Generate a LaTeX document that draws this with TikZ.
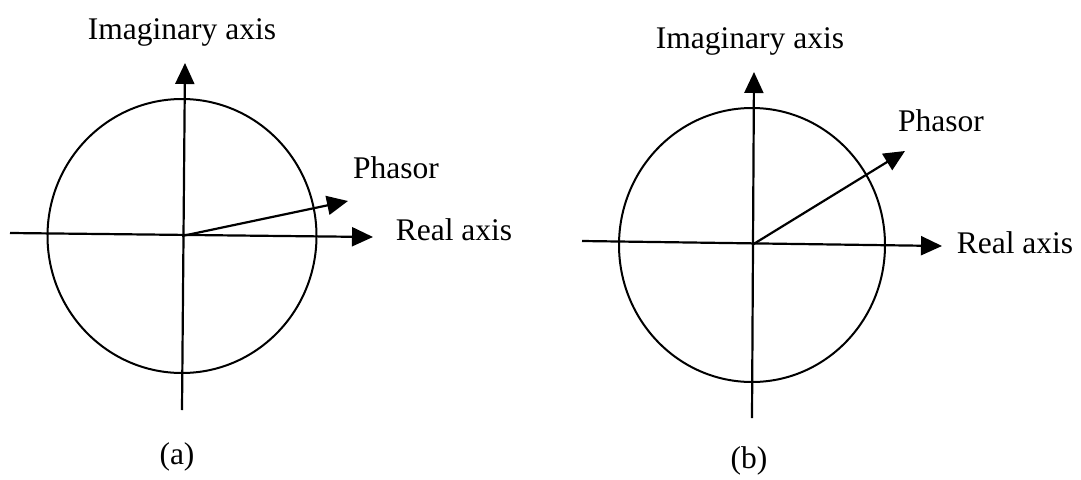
\documentclass[tikz,border=0pt]{standalone}
\usepackage{fontspec}
\setmainfont{Liberation Serif}
\usetikzlibrary{arrows.meta}
\begin{document}
\begin{tikzpicture}[x=1pt,y=-1pt,
  ax/.style={line width=2.2pt,-{Triangle[length=21pt,width=19pt]}},
  ln/.style={line width=2pt},
  lbl/.style={font=\fontsize{31.5}{36}\selectfont, inner sep=0pt}]
\useasboundingbox (0,0) rectangle (1081,479);
% ---------- (a) ----------
\coordinate (oa) at (182,236);
\coordinate (ha) at (10,233);
\coordinate (hta) at (373,237);
\coordinate (vta) at (185,63);
\coordinate (vba) at (182,410);
\coordinate (pa) at (348,201);
\draw[ln] (oa) ellipse [x radius=134.5, y radius=137];
\draw[ax] (ha) -- (hta);
\draw[ax] (vba) -- (vta);
\draw[ax] (oa) -- (pa);
\node[lbl] (ima) at (182,32) {Imaginary axis};
\node[lbl] (pha) at (396,168) {Phasor};
\node[lbl] (rea) at (454,230) {Real axis};
\node[lbl] (capa) at (177,457) {(a)};
% ---------- (b) ----------
\coordinate (ob) at (752,245);
\coordinate (hb) at (582,241);
\coordinate (htb) at (942,246);
\coordinate (vtb) at (754,72);
\coordinate (vbb) at (752,418);
\coordinate (pb) at (905,151);
\draw[ln] (ob) ellipse [x radius=133, y radius=137];
\draw[ax] (hb) -- (htb);
\draw[ax] (vbb) -- (vtb);
\draw[ax] (ob) -- (pb);
\node[lbl] (imb) at (750,41) {Imaginary axis};
\node[lbl] (phb) at (941,121) {Phasor};
\node[lbl] (reb) at (1015,243) {Real axis};
\node[lbl] (capb) at (749,461) {(b)};
\end{tikzpicture}
\end{document}
